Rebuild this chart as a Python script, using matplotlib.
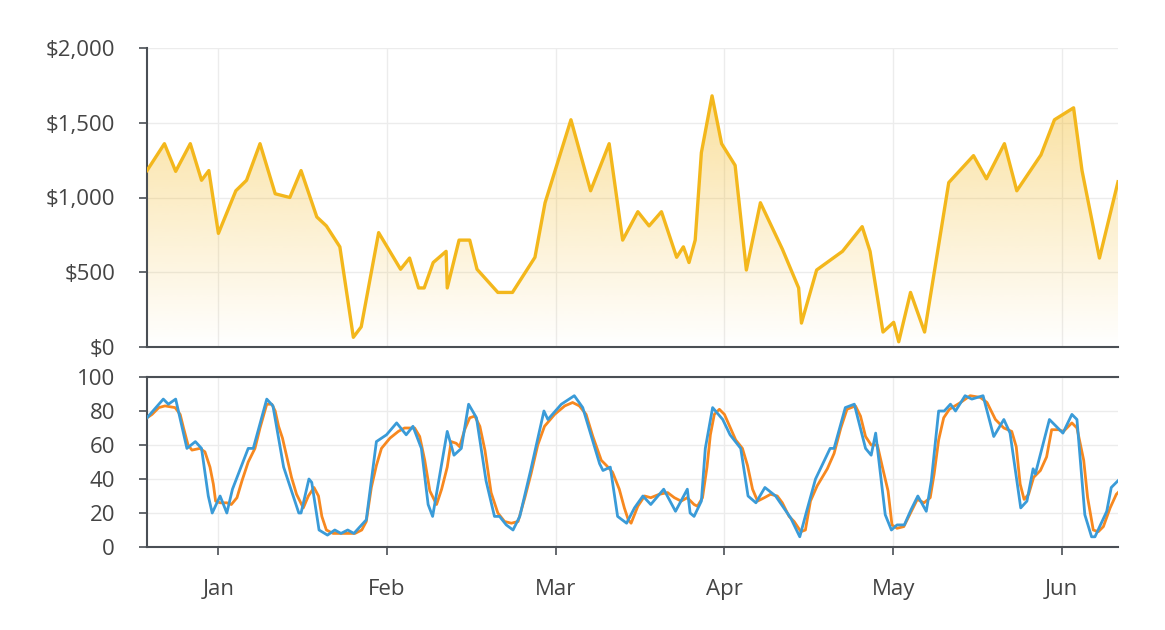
import numpy as np
import matplotlib
matplotlib.use('Agg')
import matplotlib.pyplot as plt
from matplotlib.patches import Polygon
from matplotlib.colors import to_rgb

plt.rcParams['font.family'] = ['Open Sans', 'DejaVu Sans']

# x positions are days counted from the "Jan" tick (each month tick 30 days apart)
month_days = [0, 30, 60, 90, 120, 150]
month_labels = ['Jan', 'Feb', 'Mar', 'Apr', 'May', 'Jun']

# top panel: price
price_x = [-12.7, -9.6, -7.6, -5.0, -3.0, -1.7, 0.0, 3.1, 5.0, 7.4, 10.1, 12.7, 14.7,
           17.5, 19.2, 21.6, 24.0, 25.4, 28.5, 32.4, 34.0, 35.6, 36.6, 38.2, 40.5,
           40.7, 42.8, 44.7, 46.0, 49.7, 52.3, 56.3, 58.1, 62.7, 66.2, 69.5, 71.9,
           74.6, 76.6, 78.8, 81.5, 82.7, 83.7, 84.8, 85.9, 87.8, 89.5, 91.9, 93.9,
           96.4, 100.3, 103.2, 103.7, 106.4, 111.0, 114.5, 115.9, 118.2, 120.1,
           121.0, 123.1, 125.6, 129.9, 134.3, 136.6, 139.8, 142.0, 146.3, 148.7,
           152.1, 153.6, 156.7, 160.0]
price_y = [1180, 1360, 1175, 1360, 1115, 1180, 760, 1045, 1115, 1360, 1025, 1000, 1180,
           870, 810, 670, 65, 135, 765, 520, 595, 395, 395, 565, 640,
           395, 715, 715, 520, 365, 365, 600, 965, 1520, 1045, 1360, 715,
           905, 810, 905, 600, 670, 565, 715, 1300, 1680, 1360, 1215, 515,
           965, 655, 395, 160, 515, 640, 805, 640, 100, 165,
           35, 365, 100, 1100, 1280, 1125, 1360, 1045, 1285, 1520,
           1600, 1180, 595, 1105]

# bottom panel: two indicator lines
blue_x = [-12.7, -9.8, -8.9, -7.6, -5.6, -4.1, -3.0, -1.8, -1.1, 0.3,
          1.5, 2.5, 5.3, 6.2, 8.6, 9.7, 11.6, 14.3, 14.7, 16.1,
          16.6, 17.9, 19.4, 20.7, 21.8, 23.0, 24.1, 25.2, 26.3, 28.1,
          29.9, 31.7, 33.4, 34.6, 36.1, 37.3, 38.1, 40.7, 41.9, 43.2,
          44.5, 45.9, 47.6, 49.1, 50.0, 51.2, 52.4, 53.6, 55.6, 57.9,
          58.6, 61.0, 63.3, 64.8, 67.8, 68.4, 69.7, 71.0, 72.6, 74.0,
          75.5, 76.9, 79.2, 81.3, 83.4, 83.9, 84.6, 85.9, 86.6, 87.9,
          89.7, 91.0, 92.9, 94.2, 95.6, 97.2, 99.1, 101.8, 103.4, 104.7,
          106.2, 108.8, 109.5, 111.5, 113.1, 115.1, 116.1, 116.9, 118.6, 119.7,
          120.7, 122.0, 123.2, 124.4, 125.9, 126.8, 128.1, 129.1, 130.2, 131.1,
          132.8, 134.0, 136.0, 137.9, 139.7, 140.8, 142.7, 143.8, 144.9, 145.3,
          147.8, 150.2, 151.8, 152.7, 154.1, 155.3, 155.9, 158.0, 158.8, 160.0]
blue_y = [76, 87, 84, 87, 58, 62, 58, 30, 20, 30,
          20, 34, 58, 58, 87, 83, 47, 20, 20, 40,
          38, 10, 7, 10, 8, 10, 8, 12, 16, 62,
          66, 73, 66, 71, 58, 25, 18, 68, 54, 58,
          84, 76, 39, 18, 18, 13, 10, 18, 46, 80,
          75, 84, 89, 82, 49, 45, 47, 18, 14, 23,
          30, 25, 34, 21, 34, 20, 18, 27, 58, 82,
          75, 66, 58, 30, 26, 35, 30, 17, 6, 22,
          40, 58, 58, 82, 84, 58, 54, 67, 19, 10,
          13, 13, 22, 30, 21, 39, 80, 80, 84, 80,
          89, 87, 89, 65, 75, 67, 23, 27, 46, 43,
          75, 67, 78, 75, 19, 6, 6, 21, 35, 39]

orange_x = [-12.7, -11.8, -10.6, -9.5, -7.7, -6.8, -6.2, -5.4, -4.7, -3.3,
            -2.4, -1.5, -0.9, -0.5, 0.3, 1.5, 2.3, 3.3, 4.2, 5.3,
            6.5, 7.4, 8.6, 9.5, 10.1, 10.7, 11.4, 12.1, 13.0, 13.9,
            15.1, 16.0, 17.0, 17.8, 18.4, 19.2, 20.4, 24.3, 25.5, 26.3,
            27.2, 28.1, 29.0, 30.5, 32.0, 33.1, 34.9, 35.8, 36.7, 37.6,
            38.8, 39.7, 40.7, 41.4, 42.3, 42.9, 43.8, 44.7, 45.6, 46.5,
            47.4, 48.5, 49.7, 50.9, 52.1, 53.3, 54.5, 55.6, 56.8, 58.0,
            59.8, 61.6, 63.0, 64.2, 65.4, 66.6, 68.1, 69.0, 70.1, 71.3,
            72.2, 72.9, 73.4, 74.6, 75.8, 76.9, 78.4, 79.9, 81.1, 82.3,
            83.4, 84.6, 85.2, 86.1, 86.9, 87.5, 88.2, 89.1, 90.0, 90.8,
            92.0, 93.2, 94.1, 95.0, 95.9, 97.1, 98.2, 99.4, 100.3, 101.5,
            102.4, 103.6, 104.4, 105.3, 106.5, 108.3, 109.5, 110.7, 111.8, 113.3,
            114.2, 115.1, 116.1, 117.2, 118.1, 119.1, 119.8, 120.7, 121.9, 123.1,
            124.3, 125.5, 126.6, 127.3, 128.1, 129.0, 130.0, 132.0, 133.7, 135.5,
            136.7, 138.2, 139.7, 141.1, 141.9, 142.6, 143.3, 144.1, 145.0, 146.2,
            147.3, 148.2, 149.4, 150.3, 151.8, 152.7, 153.9, 154.6, 155.6, 156.5,
            157.4, 158.6, 159.7, 160.0]
orange_y = [76, 78, 82, 83, 82, 78, 70, 60, 57, 58,
            56, 47, 37, 27, 26, 26, 25, 29, 39, 50,
            58, 70, 84, 84, 80, 71, 64, 54, 41, 31,
            23, 30, 35, 30, 18, 10, 8, 8, 10, 15,
            35, 48, 58, 64, 68, 70, 70, 65, 51, 33,
            25, 34, 47, 62, 61, 59, 69, 76, 77, 71,
            57, 32, 20, 15, 14, 15, 29, 43, 60, 71,
            78, 83, 85, 83, 78, 65, 51, 48, 44, 34,
            23, 16, 14, 24, 30, 29, 31, 32, 29, 27,
            29, 25, 24, 29, 47, 66, 78, 81, 78, 72,
            63, 58, 48, 34, 27, 29, 31, 30, 26, 18,
            15, 9, 10, 27, 36, 46, 55, 70, 81, 83,
            77, 65, 60, 60, 47, 33, 13, 11, 12, 20,
            28, 26, 29, 43, 63, 76, 81, 85, 89, 88,
            85, 75, 70, 68, 59, 37, 28, 31, 41, 45,
            53, 69, 69, 68, 73, 70, 51, 29, 10, 9,
            12, 23, 31, 32]

yellow = '#F3B71C'
orange = '#F7881F'
blue = '#3A9BD8'
text_col = '#444444'
spine_col = '#4a4f55'
grid_col = '#ececec'
xmin, xmax = -12.7, 160.0

fig = plt.figure(figsize=(11.65, 6.3), dpi=100)
ax1 = fig.add_axes([147/1165, 1 - 347/630, (1118-147)/1165, (347-48)/630])
ax2 = fig.add_axes([147/1165, 1 - 547/630, (1118-147)/1165, (547-377)/630])

# --- top: price with fading fill ---
ax1.plot(price_x, price_y, color=yellow, lw=2.4, zorder=3)
ymax_fill = max(price_y)
grad = np.zeros((256, 1, 4))
grad[..., :3] = to_rgb(yellow)
grad[:, 0, 3] = np.linspace(0.0, 0.42, 256)
im = ax1.imshow(grad, extent=[xmin, xmax, 0, ymax_fill], origin='lower',
                aspect='auto', zorder=2, interpolation='bilinear')
verts = np.column_stack([np.r_[price_x[0], price_x, price_x[-1]],
                         np.r_[0, price_y, 0]])
patch = Polygon(verts, closed=True, facecolor='none', edgecolor='none')
ax1.add_patch(patch)
im.set_clip_path(patch)

ax1.set_xlim(xmin, xmax)
ax1.set_ylim(0, 2000)
ax1.set_yticks([0, 500, 1000, 1500, 2000])
ax1.set_yticklabels(['$0', '$500', '$1,000', '$1,500', '$2,000'])
ax1.set_xticks(month_days)
ax1.tick_params(axis='x', length=0, labelbottom=False)

# --- bottom: two lines ---
ax2.plot(orange_x, orange_y, color=orange, lw=2.0, zorder=3)
ax2.plot(blue_x, blue_y, color=blue, lw=2.0, zorder=4)
ax2.set_xlim(xmin, xmax)
ax2.set_ylim(0, 100)
ax2.set_yticks([0, 20, 40, 60, 80, 100])
ax2.set_xticks(month_days)
ax2.set_xticklabels(month_labels)
ax2.tick_params(axis='x', direction='out', length=6, width=1.2, color=spine_col, pad=17)

for ax in (ax1, ax2):
    ax.grid(True, color=grid_col, lw=1, zorder=0)
    ax.set_axisbelow(True)
    ax.tick_params(axis='y', direction='out', length=6, width=1.2, color=spine_col, pad=17)
    ax.tick_params(labelsize=16, labelcolor=text_col)
    ax.spines['right'].set_visible(False)
    for s in ('left', 'bottom'):
        ax.spines[s].set_color(spine_col)
        ax.spines[s].set_linewidth(1.5)

ax1.spines['top'].set_visible(False)
ax2.spines['top'].set_color(spine_col)
ax2.spines['top'].set_linewidth(1.5)

fig.savefig('out.png', dpi=100)
